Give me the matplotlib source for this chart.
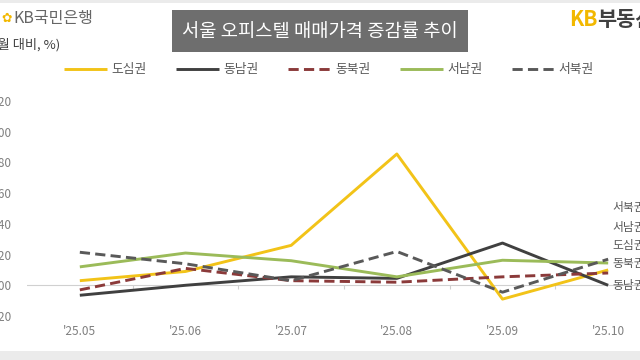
import numpy as np
import matplotlib.pyplot as plt
from matplotlib.patches import Rectangle

plt.rcParams['font.family'] = ['Noto Sans CJK KR', 'DejaVu Sans']

# data (전월 대비 증감률, %)
months = ["'25.05", "'25.06", "'25.07", "'25.08", "'25.09", "'25.10"]
series_names = ['도심권', '동남권', '동북권', '서남권', '서북권']
dosim = [0.03, 0.09, 0.26, 0.855, -0.09, 0.10]
dongnam = [-0.065, 0.00, 0.055, 0.045, 0.275, 0.00]
dongbuk = [-0.03, 0.11, 0.03, 0.02, 0.055, 0.08]
seonam = [0.12, 0.21, 0.16, 0.055, 0.163, 0.145]
seobuk = [0.215, 0.14, 0.03, 0.22, -0.045, 0.17]

colors = ['#f2c318', '#404040', '#8b3a3a', '#9bbb59', '#595959']
styles = ['-', '-', '--', '-', '--']
# vertical offsets (px) of the end labels so they don't overlap
label_offsets = [-24, 0, -10, -36, -52]

fig = plt.figure(figsize=(6.4, 3.6), dpi=100)
ax = fig.add_axes([27 / 640, 44 / 360, 634 / 640, 215 / 360])

x = np.arange(len(months))
all_series = [dosim, dongnam, dongbuk, seonam, seobuk]
for name, vals, c, ls, off in zip(series_names, all_series, colors, styles, label_offsets):
    line, = ax.plot(x, vals, color=c, linestyle=ls, linewidth=2.1, label=name,
                    solid_capstyle='butt')
    if ls == '--':
        line.set_dashes((3.5, 1.8))
    ax.annotate(name, (x[-1], vals[-1]), xytext=(4, -off), textcoords='offset pixels',
                fontsize=8.5, color='#595959', va='center', ha='left',
                annotation_clip=False)

ax.set_xlim(-0.5, len(months) - 0.5)
ax.set_ylim(-0.2, 1.2)
ax.set_yticks(np.arange(-0.2, 1.21, 0.2))
ax.set_yticklabels([f'{v:.2f}' for v in np.arange(-0.2, 1.21, 0.2)])
ax.set_xticks(x)
ax.set_xticklabels(months)
ax.tick_params(axis='y', length=0, pad=11, labelsize=8.5, labelcolor='#7f7f7f')
ax.tick_params(axis='x', length=0, pad=6.5, labelsize=8.5, labelcolor='#7f7f7f')
for s in ax.spines.values():
    s.set_visible(False)

# zero line with category boundary ticks
ax.axhline(0, color='#d0d0d0', linewidth=0.8, zorder=0)
ax.vlines(x[:-1] + 0.5, -0.025, 0, color='#d0d0d0', linewidth=0.8, zorder=0)

# legend
ax.legend(loc='center', bbox_to_anchor=(329 / 640, 1 - 70 / 360),
          bbox_transform=fig.transFigure, ncol=5, frameon=False,
          handlelength=3.4, handletextpad=0.3, columnspacing=2.3,
          fontsize=9.2, labelcolor='#595959')

# title box
fig.text(320 / 640, 1 - 31 / 360, '서울 오피스텔 매매가격 증감률 추이', ha='center', va='center',
         color='white', fontsize=13.5,
         bbox=dict(boxstyle='square,pad=0.55', fc='#6e6e6e', ec='none'))

# unit label (cut at left edge like the source)
fig.text(-19 / 640, 1 - 45 / 360, '(전월 대비, %)', ha='left', va='center',
         fontsize=9.5, color='#404040')

# logos
fig.text(1 / 640, 1 - 18 / 360, '✿', ha='left', va='center', fontsize=9,
         color='#f2b800', family=['DejaVu Sans'])
fig.text(13 / 640, 1 - 18 / 360, 'KB국민은행', ha='left', va='center',
         fontsize=11.5, color='#666666')
fig.text(569 / 640, 1 - 19 / 360, 'KB', ha='left', va='center',
         fontsize=15, color='#f2b800', fontweight='bold')
fig.text(597 / 640, 1 - 19 / 360, '부동산', ha='left', va='center',
         fontsize=15, color='#404040', fontweight='bold')

# light grey frame bands at the top and bottom
fig.patches.append(Rectangle((0, 0), 1, 9 / 360, transform=fig.transFigure,
                             fc='#ebebeb', ec='none', zorder=-1))
fig.patches.append(Rectangle((0, 1 - 3 / 360), 1, 3 / 360, transform=fig.transFigure,
                             fc='#ebebeb', ec='none', zorder=-1))

fig.savefig('out.png', dpi=100)
